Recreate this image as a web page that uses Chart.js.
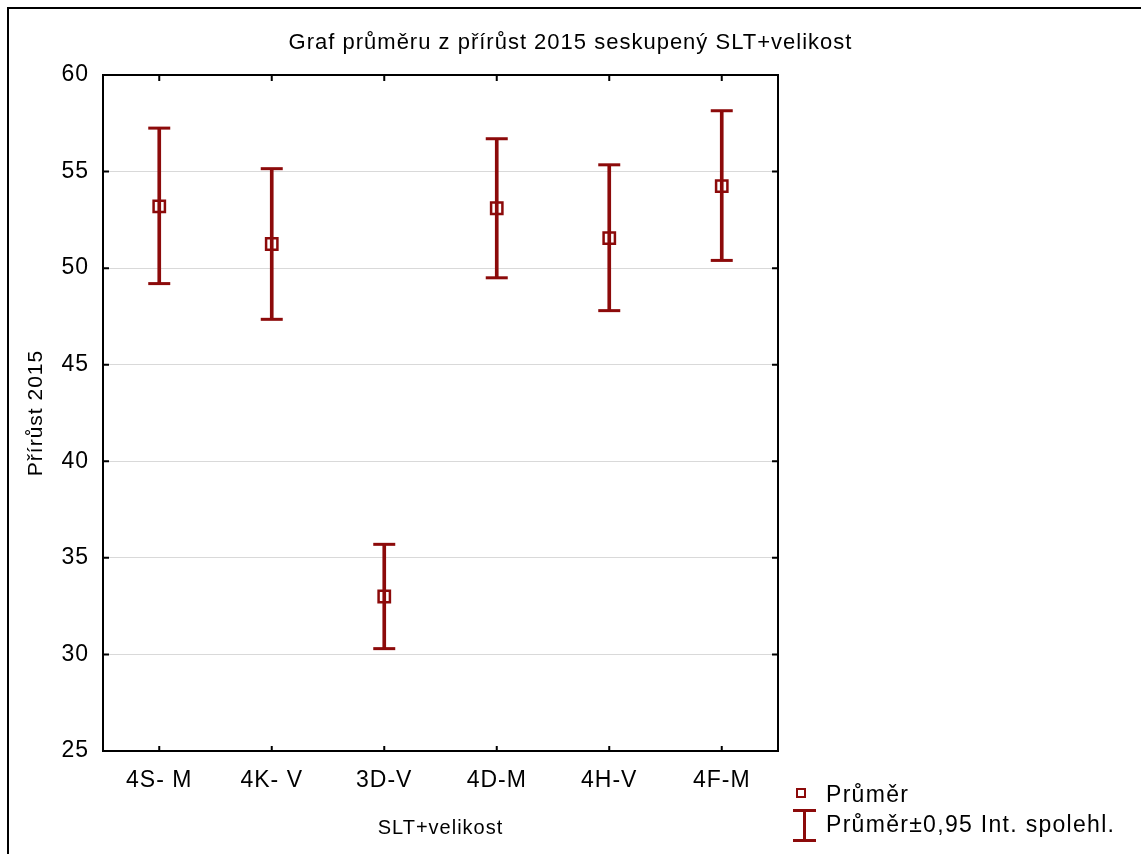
<!DOCTYPE html>
<html lang="cs">
<head>
    <meta charset="UTF-8">
    <title>Graf průměru z přírůst 2015</title>
    <script src="https://cdn.jsdelivr.net/npm/chart.js"></script>
    <style>
        body { margin: 0; background: #fff; font-family: 'Liberation Sans', Arial, sans-serif; }
        .wrap { position: relative; width: 1141px; height: 854px; overflow: hidden; }
        .frame { position: absolute; left: 7px; top: 7px; right: -10px; bottom: -10px; border-top: 2px solid #000; border-left: 2px solid #000; pointer-events: none; }
        canvas { position: absolute; left: 0; top: 0; }
        .leg { position: absolute; font-size: 23px; line-height: 23px; letter-spacing: 1.3px; color: #000; white-space: nowrap; }
        .sq { position: absolute; left: 796px; top: 788px; width: 6px; height: 6px; border: 2.5px solid #8c0a0a; }
        .eb { position: absolute; left: 793px; top: 809px; width: 23px; height: 33px; }
        .eb .v { position: absolute; left: 10px; top: 0; width: 3px; height: 33px; background: #8c0a0a; }
        .eb .h1, .eb .h2 { position: absolute; left: 0; width: 23px; height: 3px; background: #8c0a0a; }
        .eb .h1 { top: 0; }
        .eb .h2 { bottom: 0; }
    </style>
</head>
<body>
<div class="wrap">
    <canvas id="chart" width="1141" height="854"></canvas>
    <div class="frame"></div>
    <div class="sq"></div>
    <div class="leg" style="left:826px; top:783px;">Průměr</div>
    <div class="eb"><div class="v"></div><div class="h1"></div><div class="h2"></div></div>
    <div class="leg" style="left:826px; top:813px;">Průměr±0,95 Int. spolehl.</div>
</div>
<script>
    const categories = ['4S- M', '4K- V', '3D-V', '4D-M', '4H-V', '4F-M'];
    const means = [53.2, 51.25, 33.0, 53.1, 51.55, 54.25];
    const lower = [49.2, 47.35, 30.3, 49.5, 47.8, 50.4];
    const upper = [57.25, 55.15, 35.7, 56.7, 55.35, 58.15];
    const yTicks = [25, 30, 35, 40, 45, 50, 55, 60];

    const red = '#8c0a0a';
    const font = 'Liberation Sans, Arial, sans-serif';

    const spacing = {
        id: 'spacing',
        beforeUpdate(chart) { chart.ctx.letterSpacing = '1px'; },
        beforeDraw(chart) { chart.ctx.letterSpacing = '1px'; }
    };

    // box round the plot and short ticks pointing inwards, like the original
    const frameTicks = {
        id: 'frameTicks',
        afterDraw(chart) {
            const {ctx, chartArea: a, scales} = chart;
            ctx.save();
            ctx.strokeStyle = '#000';
            ctx.lineWidth = 2;
            ctx.strokeRect(a.left, a.top, a.right - a.left, a.bottom - a.top);
            ctx.beginPath();
            scales.x.ticks.forEach((t, i) => {
                const px = scales.x.getPixelForTick(i);
                ctx.moveTo(px, a.bottom); ctx.lineTo(px, a.bottom - 5);
                ctx.moveTo(px, a.top); ctx.lineTo(px, a.top + 6);
            });
            yTicks.forEach(v => {
                const py = scales.y.getPixelForValue(v);
                ctx.moveTo(a.left, py); ctx.lineTo(a.left + 6, py);
                ctx.moveTo(a.right, py); ctx.lineTo(a.right - 6, py);
            });
            ctx.stroke();
            ctx.restore();
        }
    };

    new Chart(document.getElementById('chart'), {
        data: {
            labels: categories,
            datasets: [
                {
                    type: 'line', label: 'Průměr', data: means, yAxisID: 'y',
                    showLine: false, pointStyle: 'rect', pointRadius: 8, pointHoverRadius: 8,
                    borderColor: red, backgroundColor: 'rgba(0,0,0,0)', borderWidth: 2.5
                },
                {
                    type: 'line', label: 'upper', data: upper, yAxisID: 'y',
                    showLine: false, pointStyle: 'line', pointRadius: 11, pointHoverRadius: 11,
                    borderColor: red, borderWidth: 3
                },
                {
                    type: 'line', label: 'lower', data: lower, yAxisID: 'y',
                    showLine: false, pointStyle: 'line', pointRadius: 11, pointHoverRadius: 11,
                    borderColor: red, borderWidth: 3
                },
                {
                    type: 'bar', label: 'ci', yAxisID: 'y',
                    data: lower.map((lo, i) => [lo, upper[i]]),
                    backgroundColor: red, barThickness: 3, borderSkipped: false
                }
            ]
        },
        options: {
            responsive: false,
            animation: false,
            events: [],
            layout: { padding: 0 },
            plugins: {
                legend: { display: false },
                tooltip: { enabled: false },
                title: {
                    display: true,
                    text: 'Graf průměru z přírůst 2015 seskupený SLT+velikost',
                    color: '#000',
                    font: { family: font, size: 22, weight: 'normal' },
                    padding: { top: 29.8, bottom: 18.8 }
                }
            },
            scales: {
                x: {
                    offset: true,
                    grid: { display: false },
                    border: { display: true, color: '#000', width: 2 },
                    ticks: { color: '#000', padding: 8, font: { family: font, size: 23 } },
                    title: {
                        display: true, text: 'SLT+velikost', color: '#000',
                        font: { family: font, size: 20 }, padding: { top: 0, bottom: 14 }
                    },
                    afterFit(s) { s.height = 103; }
                },
                y: {
                    position: 'left',
                    min: 25, max: 60,
                    afterBuildTicks(s) { s.ticks = yTicks.map(v => ({ value: v })); },
                    grid: { color: '#d9d9d9', lineWidth: 1, drawTicks: false },
                    border: { display: true, color: '#000', width: 2 },
                    ticks: { color: '#000', padding: 14, font: { family: font, size: 23 } },
                    title: {
                        display: true, text: 'Přírůst 2015', color: '#000',
                        font: { family: font, size: 21 }, padding: { top: 23.4, bottom: 0 }
                    },
                    afterFit(s) { s.width = 103; }
                },
                y2: {
                    position: 'right',
                    min: 25, max: 60,
                    grid: { display: false },
                    border: { display: false },
                    ticks: { display: false },
                    afterFit(s) { s.width = 363; }
                }
            }
        },
        plugins: [spacing, frameTicks]
    });
</script>
</body>
</html>
